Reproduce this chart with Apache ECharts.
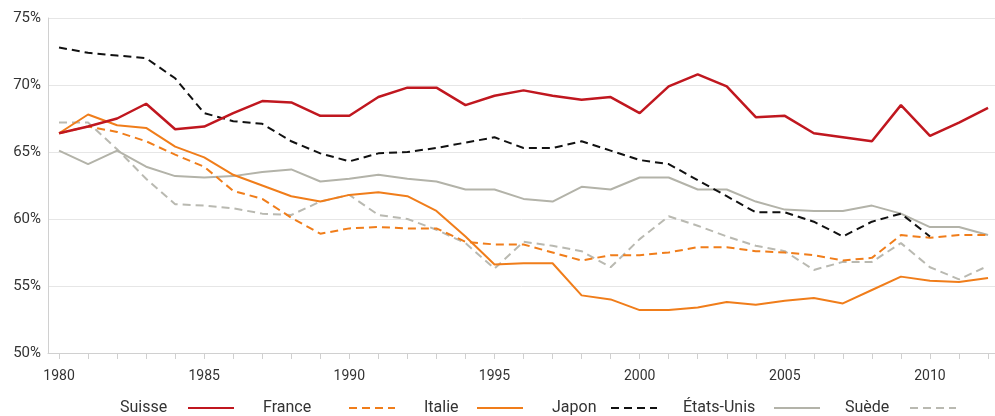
<!DOCTYPE html>
<html>
<head>
<meta charset="utf-8">
<script src="https://cdn.jsdelivr.net/npm/echarts@6/dist/echarts.min.js"></script>
<style>
  html, body { margin: 0; padding: 0; background: #fff; }
  #chart { width: 995px; height: 416px; }
</style>
</head>
<body>
<div id="chart"></div>
<script>
// années 1980 - 2012
var years = [];
for (var y = 1980; y <= 2012; y++) years.push(y);
var labelYears = [1980, 1985, 1990, 1995, 2000, 2005, 2010];

var suisse = [66.4, 66.9, 67.5, 68.6, 66.7, 66.9, 67.9, 68.8, 68.7, 67.7, 67.7, 69.1, 69.8, 69.8, 68.5, 69.2, 69.6, 69.2, 68.9, 69.1, 67.9, 69.9, 70.8, 69.9, 67.6, 67.7, 66.4, 66.1, 65.8, 68.5, 66.2, 67.2, 68.3];
var france = [66.4, 66.9, 66.5, 65.8, 64.8, 63.9, 62.1, 61.5, 60.1, 58.9, 59.3, 59.4, 59.3, 59.3, 58.3, 58.1, 58.1, 57.5, 56.9, 57.3, 57.3, 57.5, 57.9, 57.9, 57.6, 57.5, 57.3, 56.9, 57.1, 58.8, 58.6, 58.8, 58.8];
var italie = [66.4, 67.8, 67.0, 66.8, 65.4, 64.6, 63.3, 62.5, 61.7, 61.3, 61.8, 62.0, 61.7, 60.6, 58.7, 56.6, 56.7, 56.7, 54.3, 54.0, 53.2, 53.2, 53.4, 53.8, 53.6, 53.9, 54.1, 53.7, 54.7, 55.7, 55.4, 55.3, 55.6];
var japon = [72.8, 72.4, 72.2, 72.0, 70.5, 67.9, 67.3, 67.1, 65.8, 64.9, 64.3, 64.9, 65.0, 65.3, 65.7, 66.1, 65.3, 65.3, 65.8, 65.1, 64.4, 64.1, 62.9, 61.7, 60.5, 60.5, 59.8, 58.7, 59.8, 60.4, 58.7, null, null];
var etatsUnis = [65.1, 64.1, 65.1, 63.9, 63.2, 63.1, 63.2, 63.5, 63.7, 62.8, 63.0, 63.3, 63.0, 62.8, 62.2, 62.2, 61.5, 61.3, 62.4, 62.2, 63.1, 63.1, 62.2, 62.2, 61.3, 60.7, 60.6, 60.6, 61.0, 60.4, 59.4, 59.4, 58.8];
var suede = [67.2, 67.2, 65.2, 63.0, 61.1, 61.0, 60.8, 60.4, 60.3, 61.3, 61.8, 60.3, 60.0, 59.2, 58.2, 56.3, 58.3, 58.0, 57.6, 56.4, 58.5, 60.2, 59.5, 58.7, 58.0, 57.6, 56.2, 56.8, 56.8, 58.2, 56.4, 55.5, 56.5];

var legendNames = ['Suisse', 'France', 'Italie', 'Japon', 'États-Unis', 'Suède'];

function pairs(values) {
  return values.map(function (v, i) { return [years[i], v]; });
}

var font = 'Roboto, "DejaVu Sans", sans-serif';

function line(name, values, color, type, width) {
  return {
    name: name,
    type: 'line',
    data: pairs(values),
    symbol: 'none',
    connectNulls: false,
    lineStyle: { color: color, width: width, type: type === 'dashed' ? [8, 5] : 'solid' },
    itemStyle: { color: color }
  };
}

// une légende par pays : texte à gauche, trait à droite
var legendLeft = [120, 263, 424, 552, 683, 845];
var legendTextWidth = [63, 81, 48, 54, 86, 60];
var legends = legendNames.map(function (name, i) {
  return {
    left: legendLeft[i],
    top: 400,
    padding: 0,
    align: 'right',
    itemWidth: 46,
    itemHeight: 14,
    itemStyle: { opacity: 0 },
    formatter: '{t|{name}}',
    textStyle: {
      color: '#333', fontFamily: font, fontSize: 16,
      rich: { t: { width: legendTextWidth[i], align: 'left', color: '#333', fontFamily: font, fontSize: 16 } }
    },
    data: [name]
  };
});

var chart = echarts.init(document.getElementById('chart'));
chart.setOption({
  backgroundColor: '#fff',
  animation: false,
  grid: { left: 48, right: 0, top: 18, bottom: 63 },
  xAxis: {
    type: 'value',
    min: 1979.62,
    max: 2012.24,
    axisLine: { show: true, lineStyle: { color: '#d0d0d0', width: 1 } },
    axisTick: { show: true, length: 6, customValues: years, lineStyle: { color: '#d0d0d0' } },
    axisLabel: {
      customValues: labelYears,
      margin: 16,
      color: '#333',
      fontFamily: font,
      fontSize: 14,
      formatter: function (v) { return String(v); }
    },
    splitLine: { show: false }
  },
  yAxis: {
    type: 'value',
    min: 50,
    max: 75,
    interval: 5,
    axisLine: { show: true, lineStyle: { color: '#d0d0d0' } },
    axisTick: { show: false },
    axisLabel: { margin: 7, color: '#333', fontFamily: font, fontSize: 15, formatter: '{value}%' },
    splitLine: { lineStyle: { color: '#e6e6e6', width: 1 } }
  },
  legend: legends,
  series: [
    line('Suède', suede, '#b9b9b1', 'dashed', 2),
    line('États-Unis', etatsUnis, '#b3b3a9', 'solid', 2),
    line('France', france, '#f07d1a', 'dashed', 2),
    line('Italie', italie, '#f07d1a', 'solid', 2),
    line('Japon', japon, '#111111', 'dashed', 2),
    line('Suisse', suisse, '#c0171f', 'solid', 2.5)
  ]
});
</script>
</body>
</html>
